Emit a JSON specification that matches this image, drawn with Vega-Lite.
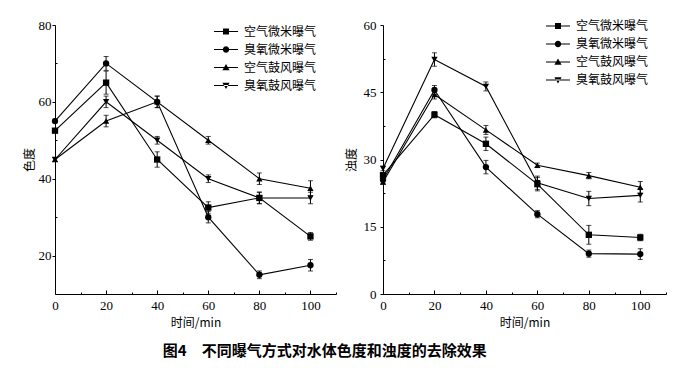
{
  "$schema": "https://vega.github.io/schema/vega-lite/v6.json",
  "padding": {"left": 23, "top": 14, "right": 5, "bottom": 5},
  "spacing": 8,
  "background": "white",
  "title": {"text": "图4　不同曝气方式对水体色度和浊度的去除效果", "orient": "bottom", "anchor": "middle", "font": "Noto Sans CJK SC", "fontSize": 15, "fontWeight": "bold", "color": "black", "offset": 16, "dx": -20},
  "config": {
    "view": {"stroke": null},
    "axis": {"domainColor": "black", "tickColor": "black", "labelColor": "black", "labelFont": "Liberation Serif", "labelFontSize": 13, "titleFont": "Noto Sans CJK SC", "titleFontSize": 12, "titleFontWeight": "normal", "titleColor": "black", "grid": false},
    "legend": {"labelFont": "Noto Sans CJK SC", "labelFontSize": 12, "labelColor": "black", "symbolSize": 576, "symbolStrokeWidth": 0, "symbolFillColor": "black", "labelOffset": 6, "padding": 0}
  },
  "datasets": {
    "color": [
      {"t": 0, "s": "空气微米曝气", "v": 52.5, "e": 0.5},
      {"t": 20, "s": "空气微米曝气", "v": 65, "e": 3},
      {"t": 40, "s": "空气微米曝气", "v": 45, "e": 2},
      {"t": 60, "s": "空气微米曝气", "v": 32.5, "e": 1.5},
      {"t": 80, "s": "空气微米曝气", "v": 35, "e": 1.5},
      {"t": 100, "s": "空气微米曝气", "v": 25, "e": 1},
      {"t": 0, "s": "臭氧微米曝气", "v": 55, "e": 0.5},
      {"t": 20, "s": "臭氧微米曝气", "v": 70, "e": 1.8},
      {"t": 40, "s": "臭氧微米曝气", "v": 60, "e": 1.5},
      {"t": 60, "s": "臭氧微米曝气", "v": 30, "e": 1.5},
      {"t": 80, "s": "臭氧微米曝气", "v": 15, "e": 1},
      {"t": 100, "s": "臭氧微米曝气", "v": 17.5, "e": 1.5},
      {"t": 0, "s": "空气鼓风曝气", "v": 45, "e": 0.5},
      {"t": 20, "s": "空气鼓风曝气", "v": 55, "e": 1.5},
      {"t": 40, "s": "空气鼓风曝气", "v": 60, "e": 1.5},
      {"t": 60, "s": "空气鼓风曝气", "v": 50, "e": 1},
      {"t": 80, "s": "空气鼓风曝气", "v": 40, "e": 1.5},
      {"t": 100, "s": "空气鼓风曝气", "v": 37.5, "e": 2},
      {"t": 0, "s": "臭氧鼓风曝气", "v": 45, "e": 0.5},
      {"t": 20, "s": "臭氧鼓风曝气", "v": 60, "e": 1.5},
      {"t": 40, "s": "臭氧鼓风曝气", "v": 50, "e": 1},
      {"t": 60, "s": "臭氧鼓风曝气", "v": 40, "e": 1},
      {"t": 80, "s": "臭氧鼓风曝气", "v": 35, "e": 1.5},
      {"t": 100, "s": "臭氧鼓风曝气", "v": 35, "e": 1.5}
    ],
    "turb": [
      {"t": 0, "s": "空气微米曝气", "v": 26.5, "e": 0.5},
      {"t": 20, "s": "空气微米曝气", "v": 40, "e": 0.7},
      {"t": 40, "s": "空气微米曝气", "v": 33.5, "e": 1.5},
      {"t": 60, "s": "空气微米曝气", "v": 24.5, "e": 1.5},
      {"t": 80, "s": "空气微米曝气", "v": 13.2, "e": 2.1},
      {"t": 100, "s": "空气微米曝气", "v": 12.6, "e": 0.7},
      {"t": 0, "s": "臭氧微米曝气", "v": 25.5, "e": 0.5},
      {"t": 20, "s": "臭氧微米曝气", "v": 45.5, "e": 1},
      {"t": 40, "s": "臭氧微米曝气", "v": 28.3, "e": 1.5},
      {"t": 60, "s": "臭氧微米曝气", "v": 17.8, "e": 0.8},
      {"t": 80, "s": "臭氧微米曝气", "v": 9, "e": 0.8},
      {"t": 100, "s": "臭氧微米曝气", "v": 8.9, "e": 1.2},
      {"t": 0, "s": "空气鼓风曝气", "v": 25, "e": 0.5},
      {"t": 20, "s": "空气鼓风曝气", "v": 44.5, "e": 1},
      {"t": 40, "s": "空气鼓风曝气", "v": 36.6, "e": 1},
      {"t": 60, "s": "空气鼓风曝气", "v": 28.7, "e": 0.5},
      {"t": 80, "s": "空气鼓风曝气", "v": 26.4, "e": 0.7},
      {"t": 100, "s": "空气鼓风曝气", "v": 23.8, "e": 1.3},
      {"t": 0, "s": "臭氧鼓风曝气", "v": 28, "e": 0.5},
      {"t": 20, "s": "臭氧鼓风曝气", "v": 52.3, "e": 1.5},
      {"t": 40, "s": "臭氧鼓风曝气", "v": 46.3, "e": 1},
      {"t": 60, "s": "臭氧鼓风曝气", "v": 24.8, "e": 1.5},
      {"t": 80, "s": "臭氧鼓风曝气", "v": 21.3, "e": 1.6},
      {"t": 100, "s": "臭氧鼓风曝气", "v": 22, "e": 1.5}
    ]
  },
  "hconcat": [
    {
      "width": 281, "height": 269,
      "data": {"name": "color"},
      "layer": [
        {
          "mark": {"type": "line", "color": "black", "strokeWidth": 1.1},
          "encoding": {
            "x": {"field": "t", "type": "quantitative", "scale": {"domain": [0, 110], "nice": false}, "axis": {"orient": "bottom", "values": [0, 20, 40, 60, 80, 100], "tickSize": -4, "labelPadding": 9, "title": "时间/min", "titlePadding": 5, "labelFlush": false}},
            "y": {"field": "v", "type": "quantitative", "scale": {"domain": [10, 80], "nice": false, "zero": false}, "axis": {"orient": "left", "values": [20, 40, 60, 80], "tickSize": 3, "labelPadding": 1, "title": "色度", "titlePadding": 2}},
            "detail": {"field": "s", "type": "nominal"}
          }
        },
        {
          "mark": {"type": "errorbar", "color": "black", "ticks": {"size": 5, "color": "black"}, "rule": {"color": "black", "strokeWidth": 1}},
          "encoding": {
            "x": {"field": "t", "type": "quantitative", "axis": null},
            "y": {"field": "v", "type": "quantitative", "axis": null},
            "yError": {"field": "e"},
            "detail": {"field": "s", "type": "nominal"}
          }
        },
        {
          "mark": {"type": "point", "filled": true, "color": "black", "size": 40, "opacity": 1},
          "encoding": {
            "x": {"field": "t", "type": "quantitative", "axis": {"orient": "bottom", "values": [10, 30, 50, 70, 90, 110], "tickSize": -2, "labels": false, "domain": false, "title": null}},
            "y": {"field": "v", "type": "quantitative", "axis": {"orient": "left", "values": [30, 50, 70], "tickSize": -2, "labels": false, "domain": false, "title": null}},
            "shape": {
              "field": "s", "type": "nominal",
              "scale": {"domain": ["空气微米曝气", "臭氧微米曝气", "空气鼓风曝气", "臭氧鼓风曝气"], "range": ["square", "circle", "triangle-up", "triangle-down"]},
              "legend": null
            }
          }
        },
        {
          "transform": [{"filter": "false"}],
          "mark": {"type": "point", "filled": true, "color": "black", "opacity": 1},
          "encoding": {
            "x": {"field": "t", "type": "quantitative", "axis": null},
            "y": {"field": "v", "type": "quantitative", "axis": null},
            "shape": {
              "field": "s", "type": "nominal",
              "scale": {"domain": ["空气微米曝气", "臭氧微米曝气", "空气鼓风曝气", "臭氧鼓风曝气"], "range": [
                "M-1,-0.045H1V0.045H-1ZM-0.25,-0.25H0.25V0.25H-0.25Z",
                "M-1,-0.045H1V0.045H-1ZM-0.27,0A0.27,0.27,0,1,1,0.27,0A0.27,0.27,0,1,1,-0.27,0Z",
                "M-1,-0.045H1V0.045H-1ZM0,-0.3L0.3,0.22L-0.3,0.22Z",
                "M-1,-0.045H1V0.045H-1ZM0,0.3L0.3,-0.22L-0.3,-0.22Z"
              ]},
              "legend": {"title": null, "orient": "none", "legendX": 159, "legendY": -5.5, "rowPadding": -8.5}
            }
          }
        }
      ],
      "resolve": {"axis": {"x": "independent", "y": "independent"}, "scale": {"shape": "independent"}}
    },
    {
      "width": 283, "height": 269,
      "data": {"name": "turb"},
      "layer": [
        {
          "mark": {"type": "line", "color": "black", "strokeWidth": 1.1},
          "encoding": {
            "x": {"field": "t", "type": "quantitative", "scale": {"domain": [0, 110], "nice": false}, "axis": {"orient": "bottom", "values": [0, 20, 40, 60, 80, 100], "tickSize": -4, "labelPadding": 9, "title": "时间/min", "titlePadding": 5, "labelFlush": false}},
            "y": {"field": "v", "type": "quantitative", "scale": {"domain": [0, 60], "nice": false}, "axis": {"orient": "left", "values": [0, 15, 30, 45, 60], "tickSize": 3, "labelPadding": 4, "title": "浊度", "titlePadding": 5}},
            "detail": {"field": "s", "type": "nominal"}
          }
        },
        {
          "mark": {"type": "errorbar", "color": "black", "ticks": {"size": 5, "color": "black"}, "rule": {"color": "black", "strokeWidth": 1}},
          "encoding": {
            "x": {"field": "t", "type": "quantitative", "axis": null},
            "y": {"field": "v", "type": "quantitative", "axis": null},
            "yError": {"field": "e"},
            "detail": {"field": "s", "type": "nominal"}
          }
        },
        {
          "mark": {"type": "point", "filled": true, "color": "black", "size": 40, "opacity": 1},
          "encoding": {
            "x": {"field": "t", "type": "quantitative", "axis": {"orient": "bottom", "values": [10, 30, 50, 70, 90, 110], "tickSize": -2, "labels": false, "domain": false, "title": null}},
            "y": {"field": "v", "type": "quantitative", "axis": {"orient": "left", "values": [7.5, 22.5, 37.5, 52.5], "tickSize": -2, "labels": false, "domain": false, "title": null}},
            "shape": {
              "field": "s", "type": "nominal",
              "scale": {"domain": ["空气微米曝气", "臭氧微米曝气", "空气鼓风曝气", "臭氧鼓风曝气"], "range": ["square", "circle", "triangle-up", "triangle-down"]},
              "legend": null
            }
          }
        },
        {
          "transform": [{"filter": "false"}],
          "mark": {"type": "point", "filled": true, "color": "black", "opacity": 1},
          "encoding": {
            "x": {"field": "t", "type": "quantitative", "axis": null},
            "y": {"field": "v", "type": "quantitative", "axis": null},
            "shape": {
              "field": "s", "type": "nominal",
              "scale": {"domain": ["空气微米曝气", "臭氧微米曝气", "空气鼓风曝气", "臭氧鼓风曝气"], "range": [
                "M-1,-0.045H1V0.045H-1ZM-0.25,-0.25H0.25V0.25H-0.25Z",
                "M-1,-0.045H1V0.045H-1ZM-0.27,0A0.27,0.27,0,1,1,0.27,0A0.27,0.27,0,1,1,-0.27,0Z",
                "M-1,-0.045H1V0.045H-1ZM0,-0.3L0.3,0.22L-0.3,0.22Z",
                "M-1,-0.045H1V0.045H-1ZM0,0.3L0.3,-0.22L-0.3,-0.22Z"
              ]},
              "legend": {"title": null, "orient": "none", "legendX": 163, "legendY": -11, "rowPadding": -7}
            }
          }
        }
      ],
      "resolve": {"axis": {"x": "independent", "y": "independent"}, "scale": {"shape": "independent"}}
    }
  ],
  "resolve": {"scale": {"shape": "independent"}, "legend": {"shape": "independent"}}
}
